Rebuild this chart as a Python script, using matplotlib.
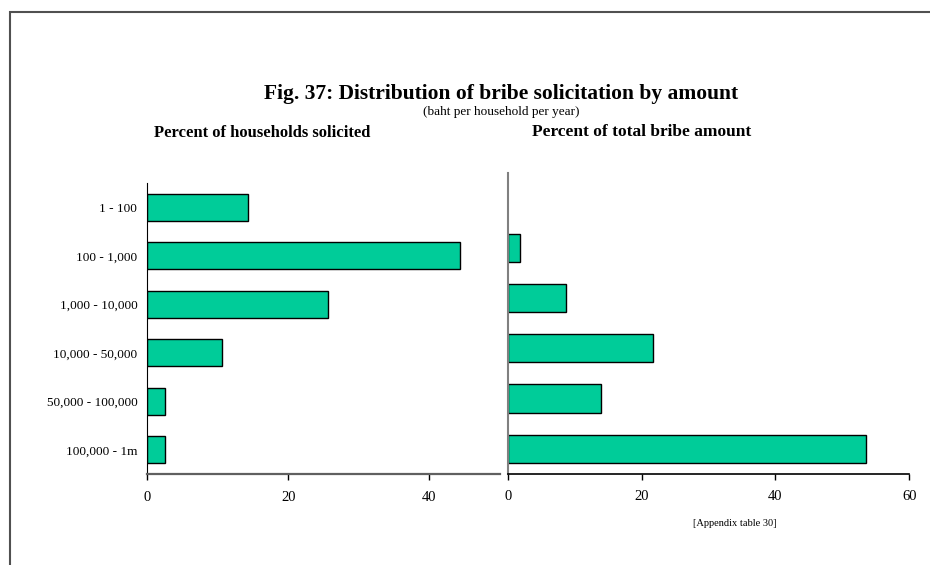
import matplotlib.pyplot as plt
from matplotlib.patches import Rectangle
import numpy as np

# Data
categories = ["1 - 100", "100 - 1,000", "1,000 - 10,000", "10,000 - 50,000",
              "50,000 - 100,000", "100,000 - 1m"]
pct_households = [14.3, 44.3, 25.6, 10.6, 2.5, 2.6]
pct_amount = [0.0, 1.9, 8.7, 21.7, 13.9, 53.6]

bar_color = "#00CC99"
plt.rcParams["font.family"] = ["Liberation Serif", "DejaVu Serif"]

fig = plt.figure(figsize=(9.3, 5.65), dpi=100)

# outer frame (top and left edges visible)
fig.patches.append(Rectangle((10 / 930, -0.2), 1.2, 1.2 - 12 / 565,
                             transform=fig.transFigure, fill=False,
                             edgecolor="#505050", linewidth=1.5))

ax1 = fig.add_axes([147 / 930, 1 - 474 / 565, 353 / 930, 291 / 565])
ax2 = fig.add_axes([507.7 / 930, 1 - 473.7 / 565, 401.6 / 930, 300.7 / 565])

y = np.arange(len(categories))

ax1.barh(y, pct_households, height=0.55, color=bar_color,
         edgecolor="black", linewidth=1)
ax2.barh(y, pct_amount, height=0.56, color=bar_color, edgecolor="black",
         linewidth=[1 if v > 0 else 0 for v in pct_amount])

ax1.set_xlim(0, 50)
ax1.set_xticks([0, 20, 40])
ax2.set_xlim(0, 60)
ax2.set_xticks([0, 20, 40, 60])

for ax in (ax1, ax2):
    ax.set_ylim(len(categories) - 0.5, -0.5)
    ax.spines["top"].set_visible(False)
    ax.spines["right"].set_visible(False)
    ax.tick_params(axis="x", direction="out", length=4, width=1,
                   labelsize=10.5, pad=8)

ax1.set_yticks(y)
ax1.set_yticklabels(categories)
ax1.tick_params(axis="y", length=0, labelsize=9.5, pad=7)
ax2.set_yticks([])

ax1.spines["left"].set_color("black")
ax1.spines["bottom"].set_color("#606060")
ax1.spines["bottom"].set_linewidth(1.6)
ax2.spines["left"].set_color("#808080")
ax2.spines["left"].set_linewidth(1.5)
ax2.spines["bottom"].set_color("black")
ax2.spines["bottom"].set_linewidth(1.2)

# titles
fig.text(501 / 930, 1 - 94 / 565, "Fig. 37: Distribution of bribe solicitation by amount",
         ha="center", va="center", fontsize=15.5, fontweight="bold")
fig.text(501 / 930, 1 - 112 / 565, "(baht per household per year)",
         ha="center", va="center", fontsize=9.5)
fig.text(262 / 930, 1 - 133 / 565, "Percent of households solicited",
         ha="center", va="center", fontsize=12, fontweight="bold")
fig.text(642 / 930, 1 - 132 / 565, "Percent of total bribe amount",
         ha="center", va="center", fontsize=12.5, fontweight="bold")
fig.text(735 / 930, 1 - 523 / 565, "[Appendix table 30]",
         ha="center", va="center", fontsize=7.5)

fig.savefig("out.png", dpi=100)
